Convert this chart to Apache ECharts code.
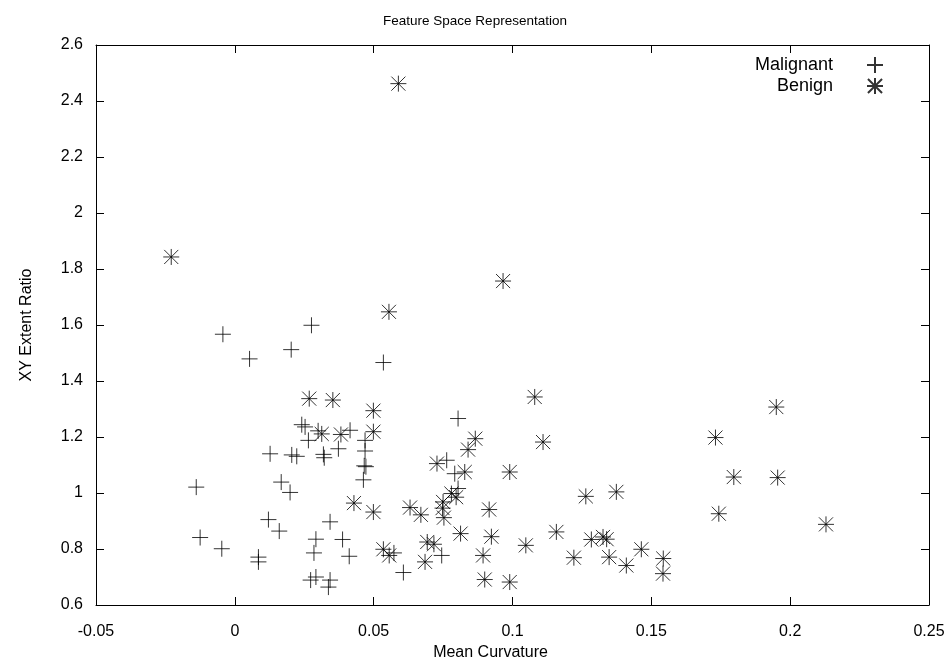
<!DOCTYPE html>
<html>
<head>
<meta charset="utf-8">
<script src="https://cdn.jsdelivr.net/npm/echarts@6/dist/echarts.min.js"></script>
<style>html,body{margin:0;padding:0;background:#fff;overflow:hidden}#c{width:950px;height:662px}</style>
</head>
<body>
<div id="c"></div>
<script>
const malignantX = [0.0276,-0.0043,0.0053,0.0203,0.0535,0.0241,0.0253,0.0265,0.0319,0.0322,0.0127,0.0205,0.0223,0.0373,0.0415,0.0469,0.0469,0.0466,0.0472,0.0463,-0.0139,0.0167,0.0199,0.0121,0.0160,0.0343,-0.0125,-0.0047,0.0085,0.0085,0.0292,0.0285,0.0388,0.0412,0.0292,0.0273,0.0343,0.0337,0.0573,0.0607,0.0745,0.0804,0.0763,0.0792,0.0804,0.0300];
const malignantY = [1.599,1.567,1.479,1.512,1.466,1.244,1.236,1.188,1.138,1.126,1.140,1.136,1.131,1.158,1.224,1.188,1.150,1.097,1.094,1.047,1.021,1.039,1.002,0.905,0.864,0.897,0.841,0.801,0.771,0.754,0.835,0.786,0.834,0.774,0.700,0.689,0.689,0.664,0.786,0.716,0.777,1.266,1.117,1.069,1.016,1.222];
const benignX = [-0.0229,0.0589,0.0966,0.0555,0.0268,0.0353,0.0499,0.0499,0.0313,0.0382,0.0429,0.0499,0.0535,0.0556,0.1080,0.1110,0.0866,0.0840,0.0828,0.0728,0.0990,0.0631,0.0670,0.0750,0.0748,0.0753,0.0797,0.0780,0.0916,0.0813,0.0924,0.0693,0.0717,0.0685,0.0894,0.0900,0.0990,0.1048,0.1158,0.1264,0.1374,0.1221,0.1284,0.1326,0.1339,0.1348,0.1410,0.1464,0.1543,0.1542,0.1950,0.1731,0.1797,0.1955,0.1743,0.2129];
const benignY = [1.843,2.462,1.757,1.647,1.337,1.332,1.294,1.219,1.211,1.209,0.964,0.932,0.799,0.777,1.343,1.182,1.194,1.155,1.075,1.105,1.075,0.948,0.922,0.968,0.946,0.912,0.985,0.998,0.941,0.855,0.844,0.825,0.817,0.754,0.777,0.691,0.682,0.813,0.861,0.988,1.004,0.769,0.834,0.843,0.835,0.771,0.741,0.799,0.766,0.712,1.307,1.198,1.057,1.055,0.926,0.888];
const xTicks = [-0.05, 0, 0.05, 0.1, 0.15, 0.2, 0.25];
const yTicks = [0.6, 0.8, 1.0, 1.2, 1.4, 1.6, 1.8, 2.0, 2.2, 2.4, 2.6];
const seriesNames = ['Malignant', 'Benign'];
const titleText = 'Feature Space Representation';
const xName = 'Mean Curvature';
const yName = 'XY Extent Ratio';

const FONT = 'Liberation Sans, Arial, sans-serif';
const plusPath = 'path://M0,5L10,5M5,0L5,10';
const starPath = 'path://M0,5L10,5M5,0L5,10M0.6,0.6L9.4,9.4M0.6,9.4L9.4,0.6';
const zip = (a, b) => a.map((v, i) => [v, b[i]]);
const fmt = v => String(+(+v).toFixed(2));

const xMin = xTicks[0], xMax = xTicks[xTicks.length - 1], xInt = xTicks[1] - xTicks[0];
const yMin = yTicks[0], yMax = yTicks[yTicks.length - 1], yInt = +(yTicks[1] - yTicks[0]).toFixed(2);

const axisCommon = {
  type: 'value',
  axisLine: { show: true, onZero: false, lineStyle: { color: '#000', width: 1 } },
  axisTick: { show: true, inside: true, length: 8, lineStyle: { color: '#000', width: 1 } },
  splitLine: { show: false },
  axisLabel: { color: '#000', fontSize: 16, fontFamily: FONT, formatter: fmt }
};

const chart = echarts.init(document.getElementById('c'), null, { renderer: 'canvas', width: 950, height: 662 });
const itemStyle = { color: 'transparent', borderColor: '#000', borderWidth: 1 };
chart.setOption({
  animation: false,
  backgroundColor: '#fff',
  title: {
    text: titleText, left: 'center', top: 9,
    textStyle: { fontSize: 13.5, fontWeight: 'normal', color: '#000', fontFamily: FONT }
  },
  legend: [
    { data: [seriesNames[0]], right: 61, top: 51, align: 'right', itemWidth: 74, itemHeight: 16,
      textStyle: { fontSize: 18, color: '#000', fontFamily: FONT }, selectedMode: false },
    { data: [seriesNames[1]], right: 61, top: 72, align: 'right', itemWidth: 74, itemHeight: 16,
      textStyle: { fontSize: 18, color: '#000', fontFamily: FONT }, selectedMode: false }
  ],
  grid: { left: 96, right: 21, top: 45, bottom: 57, containLabel: false, outerBoundsMode: 'none' },
  xAxis: [
    Object.assign({}, axisCommon, {
      min: xMin, max: xMax, interval: xInt, position: 'bottom',
      name: xName, nameLocation: 'middle', nameGap: 36,
      nameTextStyle: { fontSize: 16, color: '#000', fontFamily: FONT, padding: [0, 44, 0, 0] },
      axisLabel: Object.assign({}, axisCommon.axisLabel, { margin: 19 })
    }),
    Object.assign({}, axisCommon, {
      min: xMin, max: xMax, interval: xInt, position: 'top',
      axisLabel: { show: false }
    })
  ],
  yAxis: [
    Object.assign({}, axisCommon, {
      min: yMin, max: yMax, interval: yInt, position: 'left',
      name: yName, nameLocation: 'middle', nameGap: 61,
      nameTextStyle: { fontSize: 16, color: '#000', fontFamily: FONT },
      axisLabel: Object.assign({}, axisCommon.axisLabel, { margin: 13 })
    }),
    Object.assign({}, axisCommon, {
      min: yMin, max: yMax, interval: yInt, position: 'right',
      axisLabel: { show: false }
    })
  ],
  series: [
    { name: seriesNames[0], type: 'scatter', data: zip(malignantX, malignantY),
      symbol: plusPath, symbolSize: 16, symbolKeepAspect: true, itemStyle: itemStyle,
      emphasis: { disabled: true } },
    { name: seriesNames[1], type: 'scatter', data: zip(benignX, benignY),
      symbol: starPath, symbolSize: 16, symbolKeepAspect: true, itemStyle: itemStyle,
      emphasis: { disabled: true } }
  ]
});
</script>
</body>
</html>
